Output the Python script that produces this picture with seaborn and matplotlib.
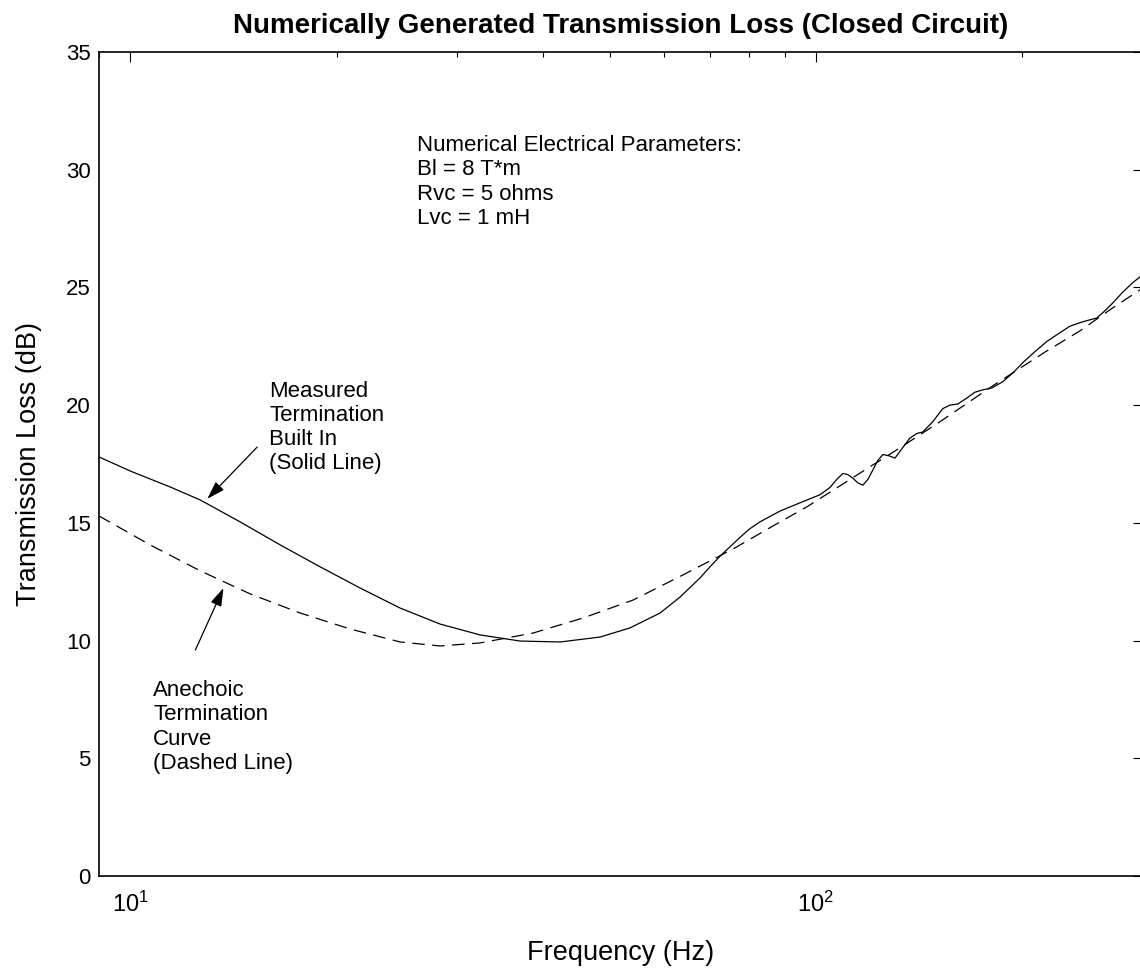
import matplotlib
matplotlib.use("Agg")
import matplotlib.pyplot as plt
import numpy as np
import pandas as pd
import seaborn as sns

# solid line: termination measured in the circuit
solid_freq = [9.0, 10.0, 11.44, 12.65, 14.46, 16.55, 18.92, 21.64, 24.75, 28.31, 32.37,
              37.03, 42.35, 48.43, 53.57, 59.25, 63.37, 67.76, 70.06, 72.44, 77.47,
              80.1, 82.85, 88.62, 94.77, 101.3, 104.8, 107.3, 109.5, 111.3, 113.2, 115.1,
              117.1, 119.1, 121.1, 123.1, 125.2, 127.8, 130.4, 133.9, 137.1, 140.4,
              143.2, 148.1, 153.1, 156.8, 161.1, 166.0, 170.6, 175.2, 180.6, 187.4,
              193.8, 200.3, 207.3, 217.1, 226.8, 234.6, 242.6, 249.2, 256.8, 263.8,
              271.0, 280.3, 289.8, 300.0]
solid_tl = [17.8, 17.2, 16.52, 15.97, 15.04, 14.06, 13.13, 12.23, 11.38, 10.7, 10.24,
            9.98, 9.94, 10.15, 10.54, 11.17, 11.85, 12.66, 13.13, 13.58, 14.38,
            14.75, 15.04, 15.5, 15.85, 16.19, 16.5, 16.85, 17.1, 17.05, 16.9, 16.7,
            16.6, 16.85, 17.25, 17.65, 17.9, 17.85, 17.75, 18.2, 18.6, 18.8,
            18.86, 19.3, 19.85, 20.0, 20.05, 20.3, 20.55, 20.65, 20.73, 21.0,
            21.37, 21.8, 22.2, 22.7, 23.07, 23.35, 23.5, 23.6, 23.7, 24.0,
            24.34, 24.8, 25.2, 25.55]

# dashed line: anechoic termination
dash_freq = [9.0, 9.35, 10.69, 12.65, 14.96, 17.69, 20.93, 24.75, 28.31, 32.37, 38.68,
             45.75, 54.1, 64.0, 75.7, 86.6, 97.0, 108.4, 121.1, 131.2, 151.6,
             181.1, 217.1, 242.6, 271.0, 300.0]
dash_tl = [15.29, 15.02, 14.06, 12.96, 11.98, 11.17, 10.49, 9.94, 9.77, 9.9, 10.32,
           10.96, 11.72, 12.79, 13.89, 14.87, 15.68, 16.57, 17.46, 18.1, 19.29,
           20.82, 22.3, 23.15, 24.13, 24.98]

y_ticks = [0, 5, 10, 15, 20, 25, 30, 35]

sns.set_style("white", {"text.color": "black", "axes.labelcolor": "black",
                        "xtick.color": "black", "ytick.color": "black",
                        "axes.edgecolor": "black"})
plt.rcParams["font.family"] = ["Liberation Sans", "DejaVu Sans"]
plt.rcParams["mathtext.fontset"] = "custom"
plt.rcParams["mathtext.rm"] = "Liberation Sans"

fig = plt.figure(figsize=(11.4, 9.72), dpi=100)
ax = fig.add_axes([99 / 1140, 96 / 972, 1044 / 1140, 824 / 972])

solid = pd.DataFrame({"freq": solid_freq, "tl": solid_tl})
dashed = pd.DataFrame({"freq": dash_freq, "tl": dash_tl})

sns.lineplot(data=solid, x="freq", y="tl", color="black", lw=0.9, ax=ax)
sns.lineplot(data=dashed, x="freq", y="tl", color="black", lw=0.9, ax=ax)
ax.lines[1].set_linestyle((0, (10, 6)))

ax.set_xscale("log")
ax.set_xlim(9, 300)
ax.set_ylim(0, 35)
ax.set_yticks(y_ticks)

for s in ax.spines.values():
    s.set_linewidth(1.2)
ax.tick_params(which="both", direction="in", top=True, right=True)
ax.tick_params(which="major", length=7, width=0.8, labelsize=16)
ax.tick_params(axis="x", which="major", labelsize=17, pad=11)
ax.tick_params(axis="y", pad=6)
ax.tick_params(which="minor", length=3.5, width=0.8)

ax.set_title("Numerically Generated Transmission Loss (Closed Circuit)",
             fontsize=20, fontweight="bold", pad=14)
ax.set_xlabel("Frequency (Hz)", fontsize=19.5)
ax.set_ylabel("Transmission Loss (dB)", fontsize=19.5)
ax.xaxis.set_label_coords(0.5, -0.078)
ax.yaxis.set_label_coords(-0.055, 0.5)

ax.text(26.2, 29.48, "Numerical Electrical Parameters:\nBl = 8 T*m\nRvc = 5 ohms\nLvc = 1 mH",
        fontsize=16, va="center", ha="left")
ax.text(15.94, 19.05, "Measured\nTermination\nBuilt In\n(Solid Line)",
        fontsize=16, va="center", ha="left")
ax.text(10.8, 6.33, "Anechoic\nTermination\nCurve\n(Dashed Line)",
        fontsize=16, va="center", ha="left")

arrow = dict(arrowstyle="-|>,head_length=1.1,head_width=0.35", color="black", lw=0.9,
             shrinkA=0, shrinkB=0)
ax.annotate("", xy=(12.95, 16.02), xytext=(15.31, 18.22), arrowprops=arrow)
ax.annotate("", xy=(13.67, 12.23), xytext=(12.44, 9.6), arrowprops=arrow)

fig.savefig("out.png", dpi=100)
